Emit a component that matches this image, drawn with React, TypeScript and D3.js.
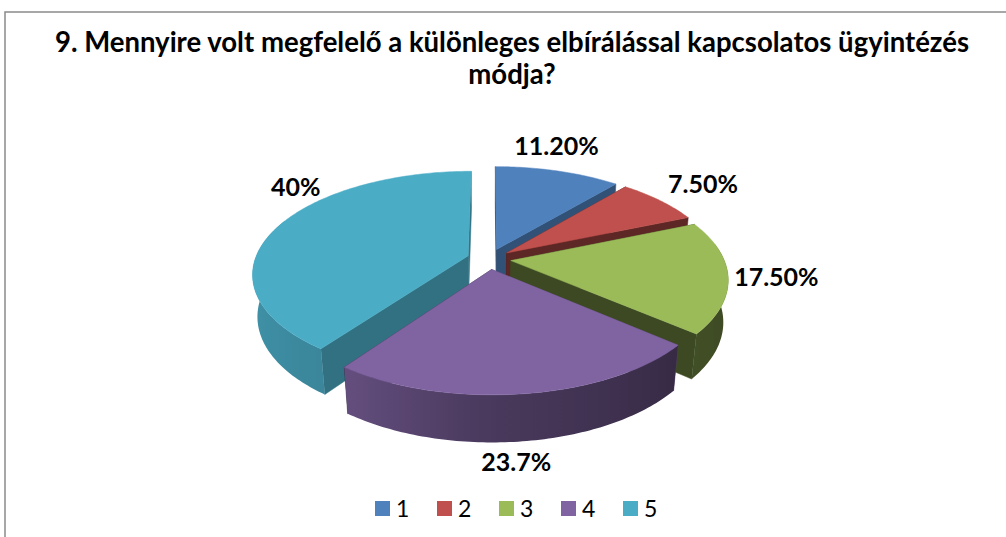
import { useMemo } from "react"
import * as d3 from "d3"

// chart data
const categories = ["1", "2", "3", "4", "5"]
const shares = [11.2, 7.5, 17.5, 23.7, 40]
const shareLabels = ["11.20%", "7.50%", "17.50%", "23.7%", "40%"]
const colors = ["#4F81BD", "#C0504D", "#9BBB59", "#8064A2", "#4BACC6"]
const titleLines = [
  "9. Mennyire volt megfelelő a különleges elbírálással kapcsolatos ügyintézés",
  "módja?",
]

// layout
const W = 1006
const H = 537
const CX = 489
const CY = 259
const R = 213
const DEPTH = 48
const EXPLODE = 22
const TILT = (28 * Math.PI) / 180
const CAM = 1100
const FONT = "Lato, 'Open Sans', sans-serif"
const TITLE_SIZE = 29
const TITLE_WIDTH = 915
// label spots in the pie plane: [angle deg, radius as share of R]
const LABEL_POLAR: [number, number][] = [
  [15.6, 1.46],
  [53.2, 1.44],
  [97.8, 1.32],
  [176.4, 1.51],
  [308.4, 1.32],
]

type Off = { x: number; z: number }
type Pt = { x: number; y: number; depth: number }

// 3d -> screen, angle clockwise from 12 o'clock, h = 0 top plane, -DEPTH bottom
function proj(theta: number, r: number, h: number, off: Off): Pt {
  const X = off.x + r * Math.sin(theta)
  const Z = off.z - r * Math.cos(theta)
  const up = h * Math.cos(TILT) - Z * Math.sin(TILT)
  const depth = Z * Math.cos(TILT) + h * Math.sin(TILT)
  const s = CAM / (CAM - depth)
  return { x: CX + X * s, y: CY - up * s, depth }
}

const rad = (d: number) => (d * Math.PI) / 180
const toDeg = (a: number) => (a * 180) / Math.PI
const wallShade = d3.scaleLinear().domain([90, 130, 180, 215, 270, 300]).range([0.4, 0.42, 0.57, 0.78, 0.88, 0.88]).clamp(true)
const cutShade = d3.scaleLinear().domain([125, 160, 220]).range([0.66, 0.47, 0.39]).clamp(true)

function shade(color: string, f: number) {
  const c = d3.rgb(color)
  return d3.rgb(c.r * f, c.g * f, c.b * f).formatHex()
}

// horizontal squeeze so the title fits the same width as in the original
function titleSqueeze() {
  try {
    const ctx = document.createElement("canvas").getContext("2d")
    if (!ctx) return 0.85
    ctx.font = `bold ${TITLE_SIZE}px Lato`
    const w = ctx.measureText(titleLines[0]).width
    return w > 0 ? Math.min(1, TITLE_WIDTH / w) : 0.85
  } catch {
    return 0.85
  }
}

type Face = { d: string; fill: string; depth: number }
type Wall = { id: string; d: string; x1: number; x2: number; stops: { o: number; c: string }[]; depth: number }

export default function App() {
  const line = d3.line<{ x: number; y: number }>().x(p => p.x).y(p => p.y).curve(d3.curveLinearClosed)

  const squeeze = useMemo(titleSqueeze, [])

  const { sides, walls, tops, labels } = useMemo(() => {
    const arcs = d3.pie<number>().sort(null).value(d => d)(shares)
    const sides: Face[] = []
    const walls: Wall[] = []
    const tops: Face[] = []
    const labels: { x: number; y: number; text: string }[] = []

    arcs.forEach((a, i) => {
      const mid = (a.startAngle + a.endAngle) / 2
      const off = { x: EXPLODE * Math.sin(mid), z: -EXPLODE * Math.cos(mid) }
      const color = colors[i]

      // top face
      const steps = Math.max(4, Math.ceil(toDeg(a.endAngle - a.startAngle)))
      const angles = d3.range(steps + 1).map(k => a.startAngle + ((a.endAngle - a.startAngle) * k) / steps)
      const topPts = [proj(0, 0, 0, off), ...angles.map(t => proj(t, R, 0, off))]
      tops.push({ d: line(topPts) || "", fill: color, depth: 0 })

      // radial cut faces
      ;[
        { t: a.startAngle, n: toDeg(a.startAngle) - 90 },
        { t: a.endAngle, n: toDeg(a.endAngle) + 90 },
      ].forEach(({ t, n }) => {
        const pts = [proj(t, 0, 0, off), proj(t, R, 0, off), proj(t, R, -DEPTH, off), proj(t, 0, -DEPTH, off)]
        const nn = ((n % 360) + 360) % 360
        sides.push({
          d: line(pts) || "",
          fill: shade(color, cutShade(nn)),
          depth: d3.mean(pts, p => p.depth) || 0,
        })
      })

      // outer wall, only the part that faces the viewer
      const w0 = Math.max(a.startAngle, rad(80))
      const w1 = Math.min(a.endAngle, rad(292))
      if (w1 > w0) {
        const n = Math.max(2, Math.ceil(toDeg(w1 - w0)))
        const ts = d3.range(n + 1).map(k => w0 + ((w1 - w0) * k) / n)
        const topArc = ts.map(t => proj(t, R, 0, off))
        const botArc = ts.map(t => proj(t, R, -DEPTH, off)).reverse()
        const x1 = topArc[0].x
        const x2 = d3.min(topArc, p => p.x) ?? x1
        const stops = ts
          .filter((t, k) => (k % 3 === 0 || k === n) && toDeg(t) <= 272)
          .map(t => ({ o: (proj(t, R, 0, off).x - x1) / (x2 - x1 || 1), c: shade(color, wallShade(toDeg(t))) }))
        walls.push({
          id: "wall" + i,
          d: line([...topArc, ...botArc]) || "",
          x1,
          x2,
          stops,
          depth: d3.max(topArc, p => p.depth) || 0,
        })
      }

      const [la, lr] = LABEL_POLAR[i]
      const lp = proj(rad(la), R * lr, 0, { x: 0, z: 0 })
      labels.push({ x: lp.x, y: lp.y, text: shareLabels[i] })
    })

    sides.sort((p, q) => p.depth - q.depth)
    walls.sort((p, q) => p.depth - q.depth)
    return { sides, walls, tops, labels }
  }, [])

  const legendX = d3.scalePoint<string>().domain(categories).range([375, 623])

  return (
    <svg width={W} height={H} style={{ position: "absolute", left: 0, top: 0, background: "#fff" }}>
      <defs>
        {walls.map(w => (
          <linearGradient key={w.id} id={w.id} gradientUnits="userSpaceOnUse" x1={w.x1} x2={w.x2} y1={0} y2={0}>
            {w.stops.map((s, k) => (
              <stop key={k} offset={s.o} stopColor={s.c} />
            ))}
          </linearGradient>
        ))}
      </defs>

      <rect x={5} y={12} width={W} height={H} fill="#fff" stroke="#8a8a8a" strokeWidth={1.5} />

      <g fontFamily={FONT} fontWeight="bold" fill="#000" textAnchor="middle" fontSize={TITLE_SIZE}>
        <text transform={`translate(512,52) scale(${squeeze},1)`}>{titleLines[0]}</text>
        <text transform={`translate(512,84) scale(${squeeze},1)`}>{titleLines[1]}</text>
      </g>

      <g>
        {sides.map((f, i) => (
          <path key={"s" + i} d={f.d} fill={f.fill} stroke={f.fill} strokeWidth={0.5} strokeLinejoin="round" />
        ))}
        {walls.map(w => (
          <path key={w.id} d={w.d} fill={`url(#${w.id})`} />
        ))}
        {tops.map((f, i) => (
          <path key={"t" + i} d={f.d} fill={f.fill} stroke={f.fill} strokeWidth={0.5} />
        ))}
      </g>

      <g fontFamily={FONT} fontWeight="bold" fontSize={25} textAnchor="middle" fill="#000">
        {labels.map(l => (
          <text key={l.text} x={l.x} y={l.y + 9}>
            {l.text}
          </text>
        ))}
      </g>

      <g fontFamily={FONT} fontSize={23} fill="#000">
        {categories.map((c, i) => (
          <g key={c} transform={`translate(${legendX(c)},501)`}>
            <rect width={15} height={15} fill={colors[i]} />
            <text x={21} y={16}>
              {c}
            </text>
          </g>
        ))}
      </g>
    </svg>
  )
}
